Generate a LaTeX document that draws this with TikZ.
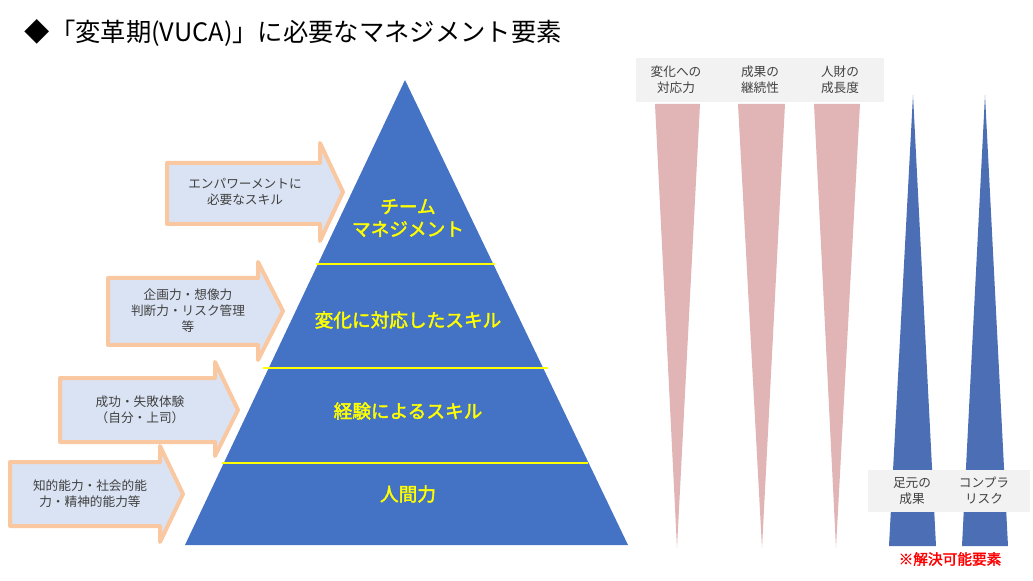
\documentclass[tikz,border=0pt]{standalone}
\usepackage{fontspec}
\setmainfont{Noto Sans CJK JP}
\newfontfamily\jpb{Noto Sans CJK JP}[FakeBold=2]
\usetikzlibrary{shapes.arrows}
\definecolor{pyr}{RGB}{68,114,196}
\definecolor{ylw}{RGB}{255,255,0}
\definecolor{arrfill}{RGB}{218,227,243}
\definecolor{glow}{RGB}{250,200,160}
\definecolor{pink}{RGB}{225,180,182}
\definecolor{wblue}{RGB}{75,110,180}
\definecolor{lbl}{RGB}{242,242,242}
\definecolor{txt}{RGB}{64,64,64}
\tikzset{
 lvl/.style={text=ylw,font=\jpb\fontsize{14}{17}\selectfont,align=center},
 small/.style={text=txt,font=\fontsize{9.5}{12}\selectfont,align=center},
 arr/.style={fill=arrfill,draw=glow,line width=3pt,line join=round},
 wedge/.style={fill=pink,draw=none},
 bwedge/.style={fill=wblue,draw=none}
}
\begin{document}
\begin{tikzpicture}[x=0.75pt,y=-0.75pt]
\useasboundingbox (0,0) rectangle (1033,581);
\node[anchor=west,font=\fontsize{19}{22}\selectfont] (title) at (20,33) {◆「変革期(VUCA)」に必要なマネジメント要素};
% pyramid
\fill[pyr] (405,80) -- (628,545) -- (185,545) -- cycle;
\draw[ylw,line width=1.2pt] (316,264) -- (495,264);
\draw[ylw,line width=1.2pt] (263,368) -- (548,368);
\draw[ylw,line width=1.2pt] (222,463) -- (588,463);
\node[lvl] (l1) at (408,218) {チーム\\マネジメント};
\node[lvl] (l2) at (408,320) {変化に対応したスキル};
\node[lvl] (l3) at (408,411) {経験によるスキル};
\node[lvl] (l4) at (408,494) {人間力};
% arrows
\draw[arr] (167,163) -- (320,163) -- (320,143) -- (343,192) -- (320,241) -- (320,224) -- (167,224) -- cycle;
\node[small] (a1) at (245,192) {エンパワーメントに\\必要なスキル};
\draw[arr] (108,278) -- (258,278) -- (258,262) -- (283,311) -- (258,360) -- (258,345) -- (108,345) -- cycle;
\node[small] (a2) at (188,311) {企画力・想像力\\判断力・リスク管理\\等};
\draw[arr] (60,378) -- (215,378) -- (215,362) -- (238,410) -- (215,456) -- (215,442) -- (60,442) -- cycle;
\node[small] (a3) at (140,410) {成功・失敗体験\\（自分・上司）};
\draw[arr] (10,462) -- (160,462) -- (160,446) -- (183,494) -- (160,542) -- (160,526) -- (10,526) -- cycle;
\node[small] (a4) at (90,494) {知的能力・社会的能\\力・精神的能力等};
% pink wedges
\fill[wedge] (655,104) -- (700,104) -- (677,548) -- cycle;
\fill[wedge] (738,104) -- (785,104) -- (762,548) -- cycle;
\fill[wedge] (814,104) -- (860,104) -- (836,548) -- cycle;
\fill[lbl] (636,58) rectangle (884,102);
\node[small] (p1) at (676,80) {変化への\\対応力};
\node[small] (p2) at (760,80) {成果の\\継続性};
\node[small] (p3) at (840,80) {人財の\\成長度};
% blue wedges
\fill[bwedge] (913,95) -- (936,546) -- (889,546) -- cycle;
\fill[bwedge] (985,95) -- (1008,546) -- (962,546) -- cycle;
\fill[lbl] (868,470) rectangle (1030,512);
\node[small] (b1) at (912,491) {足元の\\成果};
\node[small] (b2) at (984,491) {コンプラ\\リスク};
\node[text=red,font=\jpb\fontsize{11}{13}\selectfont] (note) at (950,559) {※解決可能要素};
\end{tikzpicture}
\end{document}
